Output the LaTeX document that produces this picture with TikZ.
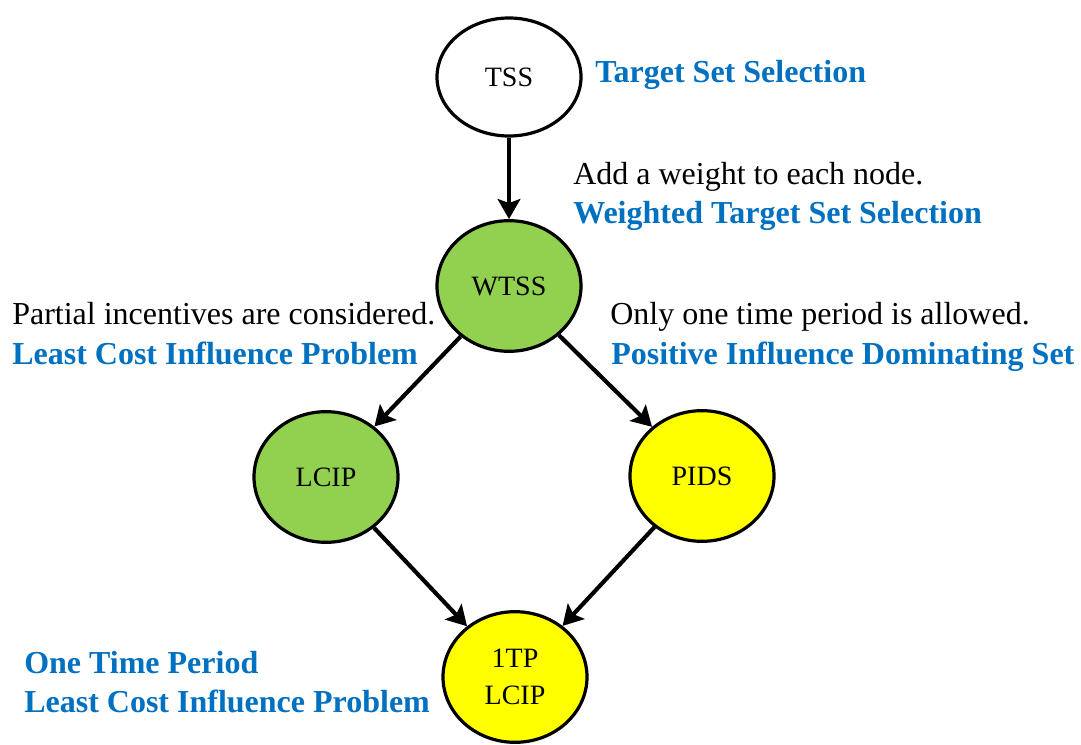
\documentclass[tikz,border=0pt]{standalone}
\usepackage{fontspec}
\setmainfont{Liberation Serif}
\usetikzlibrary{arrows.meta}
\usetikzlibrary{shapes.geometric}
\definecolor{probgreen}{HTML}{92D050}
\definecolor{probyellow}{HTML}{FFFF00}
\definecolor{probblue}{HTML}{0070C0}

\begin{document}
\begin{tikzpicture}[x=0.75pt, y=-0.75pt,
  prob/.style={ellipse, draw=black, line width=2.4pt, inner sep=0pt,
    minimum width=108pt, minimum height=98pt, align=center,
    font=\fontsize{21pt}{27.75pt}\selectfont},
  note/.style={anchor=base west, inner sep=0pt, font=\fontsize{24pt}{29pt}\selectfont},
  fullname/.style={note, text=probblue, font=\fontsize{24pt}{29pt}\selectfont\bfseries},
  conn/.style={line width=3.1pt, -{Stealth[length=15pt, width=17pt, inset=3pt]}}]
\useasboundingbox (0,0) rectangle (1081,745);
% problems
\node[prob, minimum height=88.5pt, fill=white] (tss) at (509,77) {TSS};
\node[prob, fill=probgreen] (wtss) at (509,286) {WTSS};
\node[prob, fill=probgreen] (lcip) at (326,477) {LCIP};
\node[prob, fill=probyellow] (pids) at (702,476) {PIDS};
\node[prob, fill=probyellow] (onetp) at (515,677) {1TP\\LCIP};
% reductions
\foreach \a/\b in {tss/wtss, wtss/lcip, wtss/pids, lcip/onetp, pids/onetp} {
 \draw[conn] (\a) -- (\b);
}
% texts
\node[fullname] (tssname) at (595,83) {Target Set Selection};
\node[note] (wtssnote) at (573,185) {Add a weight to each node.};
\node[fullname] (wtssname) at (573,224) {Weighted Target Set Selection};
\node[note] (lcipnote) at (12,325) {Partial incentives are considered.};
\node[fullname] (lcipname) at (12,364) {Least Cost Influence Problem};
\node[note] (pidsnote) at (610,325) {Only one time period is allowed.};
\node[fullname] (pidsname) at (611,364) {Positive Influence Dominating Set};
\node[fullname] (onetpname) at (24,673) {One Time Period};
\node[fullname] (onetplcip) at (24,712) {Least Cost Influence Problem};
\end{tikzpicture}
\end{document}
